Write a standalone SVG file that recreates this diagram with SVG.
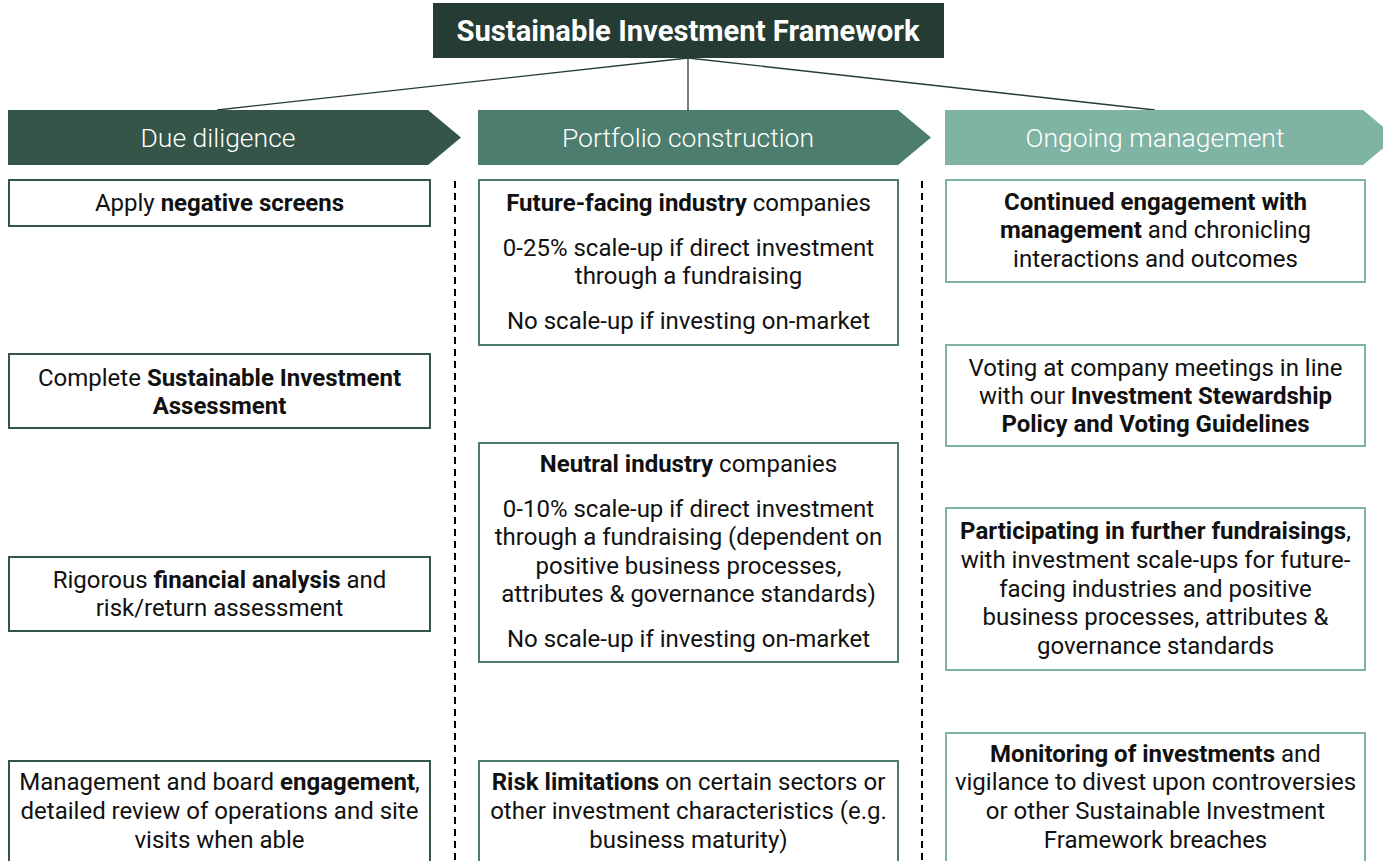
<svg xmlns="http://www.w3.org/2000/svg" width="1383" height="861" viewBox="0 0 1383 861">
<style>
text{font-family:Roboto,"Liberation Sans",sans-serif;}
.t{font-size:24px;fill:#111;text-anchor:middle;}
.b{font-weight:700;}
.h{font-size:26.5px;font-weight:300;fill:#fff;text-anchor:middle;}
.c1{fill:#fff;stroke:#345548;stroke-width:2;}
.c2{fill:#fff;stroke:#4C7D6E;stroke-width:2;}
.c3{fill:#fff;stroke:#7FB3A4;stroke-width:2;}
.conn{stroke:#253B34;stroke-width:1.3;fill:none;}
.dash{stroke:#000;stroke-width:2;stroke-dasharray:7 5;fill:none;}
</style>
<rect width="1383" height="861" fill="#fff"/>
<g id="connectors">
<line class="conn" x1="688" y1="58" x2="217" y2="110"/>
<line class="conn" x1="688" y1="58" x2="688" y2="110"/>
<line class="conn" x1="688" y1="58" x2="1155" y2="110"/>
<line class="dash" x1="455" y1="181" x2="455" y2="861"/>
<line class="dash" x1="922" y1="181" x2="922" y2="861"/>
</g>
<g id="title">
<rect x="433" y="3" width="511" height="55" fill="#253B34"/>
<text x="688" y="41" font-size="29.2" font-weight="700" fill="#fff" text-anchor="middle">Sustainable Investment Framework</text>
</g>
<g id="h1">
<polygon points="8,110 428,110 461,137.5 428,165 8,165" fill="#345548"/>
<text class="h" x="218" y="147">Due diligence</text>
</g>
<g id="h2">
<polygon points="478,110 898,110 931,137.5 898,165 478,165" fill="#4C7D6E"/>
<text class="h" x="688" y="147">Portfolio construction</text>
</g>
<g id="h3">
<polygon points="945,110 1363,110 1396,137.5 1363,165 945,165" fill="#7FB3A4"/>
<text class="h" x="1155" y="147">Ongoing management</text>
</g>
<g id="dd1">
<rect class="c1" x="9" y="180" width="421" height="46"/>
<text class="t" x="219.5" y="211">Apply <tspan class="b">negative screens</tspan></text>
</g>
<g id="dd2">
<rect class="c1" x="9" y="354" width="421" height="74"/>
<text class="t" x="219.5" y="386">Complete <tspan class="b">Sustainable Investment</tspan></text>
<text class="t b" x="219.5" y="414">Assessment</text>
</g>
<g id="dd3">
<rect class="c1" x="9" y="557" width="421" height="74"/>
<text class="t" x="219.5" y="588">Rigorous <tspan class="b">financial analysis</tspan> and</text>
<text class="t" x="219.5" y="616">risk/return assessment</text>
</g>
<g id="dd4">
<rect class="c1" x="9" y="761" width="421" height="120"/>
<text class="t" x="219.5" y="790">Management and board <tspan class="b">engagement</tspan>,</text>
<text class="t" x="219.5" y="819">detailed review of operations and site</text>
<text class="t" x="219.5" y="848">visits when able</text>
</g>
<g id="pc1">
<rect class="c2" x="479" y="180" width="419" height="165"/>
<text class="t" x="688.5" y="211"><tspan class="b">Future-facing industry</tspan> companies</text>
<text class="t" x="688.5" y="256">0-25% scale-up if direct investment</text>
<text class="t" x="688.5" y="284">through a fundraising</text>
<text class="t" x="688.5" y="329">No scale-up if investing on-market</text>
</g>
<g id="pc2">
<rect class="c2" x="479" y="443" width="419" height="219"/>
<text class="t" x="688.5" y="472"><tspan class="b">Neutral industry</tspan> companies</text>
<text class="t" x="688.5" y="517">0-10% scale-up if direct investment</text>
<text class="t" x="688.5" y="545">through a fundraising (dependent on</text>
<text class="t" x="688.5" y="574">positive business processes,</text>
<text class="t" x="688.5" y="602">attributes &amp; governance standards)</text>
<text class="t" x="688.5" y="647">No scale-up if investing on-market</text>
</g>
<g id="pc3">
<rect class="c2" x="479" y="761" width="419" height="120"/>
<text class="t" x="688.5" y="790"><tspan class="b">Risk limitations</tspan> on certain sectors or</text>
<text class="t" x="688.5" y="819">other investment characteristics (e.g.</text>
<text class="t" x="688.5" y="848">business maturity)</text>
</g>
<g id="om1">
<rect class="c3" x="946" y="180" width="419" height="102"/>
<text class="t b" x="1155.5" y="210">Continued engagement with</text>
<text class="t" x="1155.5" y="238"><tspan class="b">management</tspan> and chronicling</text>
<text class="t" x="1155.5" y="267">interactions and outcomes</text>
</g>
<g id="om2">
<rect class="c3" x="946" y="345" width="419" height="101"/>
<text class="t" x="1155.5" y="376">Voting at company meetings in line</text>
<text class="t" x="1155.5" y="404">with our <tspan class="b">Investment Stewardship</tspan></text>
<text class="t b" x="1155.5" y="432">Policy and Voting Guidelines</text>
</g>
<g id="om3">
<rect class="c3" x="946" y="508" width="419" height="162"/>
<text class="t" x="1155.5" y="539"><tspan class="b">Participating in further fundraisings</tspan>,</text>
<text class="t" x="1155.5" y="568">with investment scale-ups for future-</text>
<text class="t" x="1155.5" y="597">facing industries and positive</text>
<text class="t" x="1155.5" y="625">business processes, attributes &amp;</text>
<text class="t" x="1155.5" y="654">governance standards</text>
</g>
<g id="om4">
<rect class="c3" x="946" y="733" width="419" height="148"/>
<text class="t" x="1155.5" y="762"><tspan class="b">Monitoring of investments</tspan> and</text>
<text class="t" x="1155.5" y="790">vigilance to divest upon controversies</text>
<text class="t" x="1155.5" y="819">or other Sustainable Investment</text>
<text class="t" x="1155.5" y="848">Framework breaches</text>
</g>
</svg>
